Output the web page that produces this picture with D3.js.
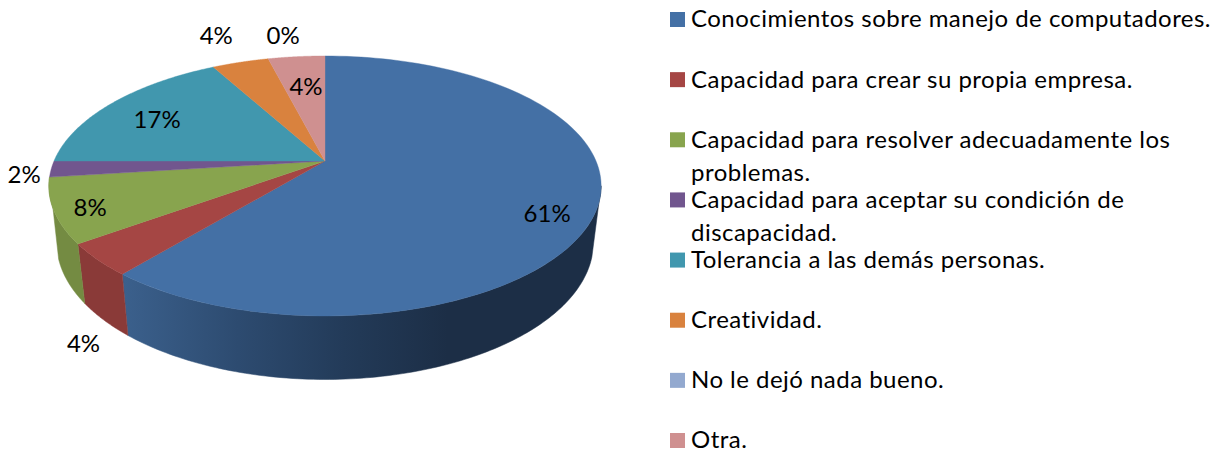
<!DOCTYPE html>
<html>
<head>
<meta charset="utf-8">
<script src="https://cdnjs.cloudflare.com/ajax/libs/d3/7.8.5/d3.min.js"></script>
<style>
html,body{margin:0;padding:0;background:#fff;overflow:hidden}
svg{display:block}
text{font-family:Lato,"Open Sans",sans-serif;fill:#000}
</style>
</head>
<body>
<svg id="chart" width="1214" height="450"></svg>
<script>
// ---- data ----
const categories = [
  "Conocimientos sobre manejo de computadores.",
  "Capacidad para crear su propia empresa.",
  "Capacidad para resolver adecuadamente los\nproblemas.",
  "Capacidad para aceptar su condición de\ndiscapacidad.",
  "Tolerancia a las demás personas.",
  "Creatividad.",
  "No le dejó nada bueno.",
  "Otra."
];
const values = [61, 4, 8, 2, 17, 4, 0, 4];
const valueLabels = ["61%", "4%", "8%", "2%", "17%", "4%", "0%", "4%"];
const topColors = ["#4470a5", "#a54644", "#88a44e", "#71568e", "#4197ae", "#d9823e", "#93a9cf", "#cf9090"];
const wallColors = ["url(#blueWall)", "#8a3a38", "#748b42", "#5e4877", "#357f92", "#b86d33", "#7b8dad", "#ad7979"];

// ---- layout ----
const W = 1214, H = 450;
const cx = 325, cy = 161, R = 271, persp = -0.192, yGain = 125.2;   // top face projection
const bottomX = 0.972, bottomY = 1.055, bottomCy = 216;             // bottom face relative to top
const labelAngleOffset = [7.5, -15.4, -1.8, -1.8, -2.7, -0.3, 5.6, 0.5];  // degrees from slice middle
const labelRadius = [0.853, 1.336, 0.881, 1.093, 0.748, 1.331, 1.25, 0.68];
const rad = Math.PI / 180;
const topStart = 101 * rad, bottomStart = 107 * rad;   // right silhouette of the wall
const topEnd = 263 * rad, bottomEnd = 252 * rad;       // left silhouette of the wall

const legendRow = d3.scaleLinear().domain([0, categories.length - 1]).range([20, 441]);
const legendSwatchX = 670, legendSwatchSize = 15, legendTextX = 691, legendLineStep = 33;
const fontSize = 24, legendTargetWidth = 520;

const svg = d3.select("#chart");
const defs = svg.append("defs");
const grad = defs.append("linearGradient").attr("id", "blueWall")
  .attr("gradientUnits", "userSpaceOnUse")
  .attr("x1", 124).attr("x2", 600).attr("y1", 0).attr("y2", 0);
[[0, "#3b608c"], [0.24, "#2d4b70"], [0.46, "#233b59"], [0.68, "#1c2e46"], [1, "#1c2e46"]]
  .forEach(([o, c]) => grad.append("stop").attr("offset", o).attr("stop-color", c));

// projection of a point on the unit disc (theta clockwise from top)
function project(theta, r) {
  const u = r * Math.sin(theta), v = -r * Math.cos(theta), w = 1 + persp * v;
  return { x: R * u / w, off: yGain * v / w };
}
const topPt = (t, r = 1) => { const p = project(t, r); return [cx + p.x, cy + p.off]; };
const botPt = (t) => { const p = project(t, 1); return [cx + bottomX * p.x, bottomCy + bottomY * p.off]; };

const arcs = d3.pie().sort(null).value(d => d).startAngle(0).endAngle(2 * Math.PI)(values);
const line = d3.line();
const samples = (a, b) => d3.range(0, 121).map(i => a + (b - a) * i / 120);

const g = svg.append("g");

// side walls (only the part facing the viewer)
arcs.forEach((d, i) => {
  const a0 = d.startAngle, a1 = d.endAngle;
  if (a1 <= topStart || a0 >= bottomEnd || a1 === a0) return;
  const t0 = Math.max(a0, topStart), b0 = Math.max(a0, bottomStart);
  const t1 = Math.min(a1, topEnd), b1 = Math.min(a1, bottomEnd);
  const pts = samples(t0, t1).map(t => topPt(t)).concat(samples(b0, b1).map(t => botPt(t)).reverse());
  g.append("path").attr("d", line(pts) + "Z")
    .attr("fill", wallColors[i]).attr("stroke", wallColors[i]).attr("stroke-width", 0.5);
});

// top face
arcs.forEach((d, i) => {
  if (d.endAngle === d.startAngle) return;
  const pts = [[cx, cy]].concat(samples(d.startAngle, d.endAngle).map(t => topPt(t)));
  g.append("path").attr("d", line(pts) + "Z")
    .attr("fill", topColors[i]).attr("stroke", topColors[i]).attr("stroke-width", 0.4);
});

// value labels
arcs.forEach((d, i) => {
  const mid = (d.startAngle + d.endAngle) / 2 + labelAngleOffset[i] * rad;
  const [x, y] = topPt(mid, labelRadius[i]);
  g.append("text").attr("x", x).attr("y", y).attr("dy", "0.35em")
    .attr("text-anchor", "middle").attr("font-size", fontSize).text(valueLabels[i]);
});

// legend
const legend = svg.append("g");
categories.forEach((c, i) => {
  const y = legendRow(i);
  legend.append("rect").attr("x", legendSwatchX).attr("y", y - legendSwatchSize / 2 - 0.5)
    .attr("width", legendSwatchSize).attr("height", legendSwatchSize).attr("fill", topColors[i]);
  c.split("\n").forEach((ln, j) => {
    legend.append("text").attr("class", "lg").attr("x", legendTextX).attr("y", y + j * legendLineStep)
      .attr("dy", "0.31em").attr("font-size", fontSize).text(ln);
  });
});
// fit the legend width to the longest line
const longest = legend.select("text.lg");
const measured = longest.node().getComputedTextLength();
const ls = (legendTargetWidth - measured) / categories[0].length;
legend.selectAll("text.lg").attr("letter-spacing", ls);
</script>
</body>
</html>
